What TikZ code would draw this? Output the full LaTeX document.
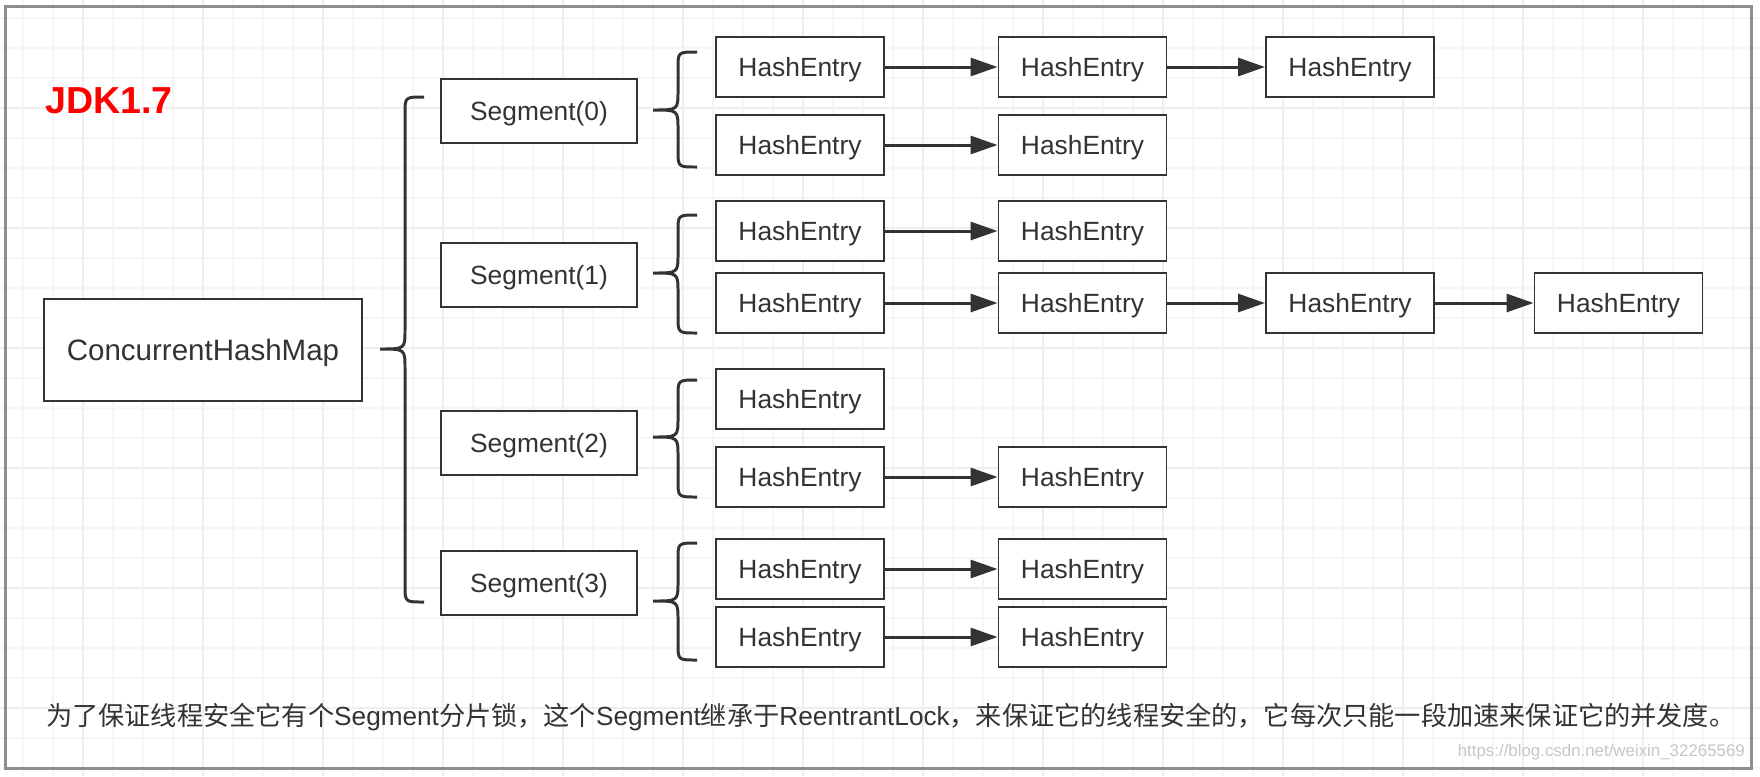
\documentclass[tikz,border=0pt]{standalone}
\usepackage{fontspec}
\setmainfont{Liberation Sans}
\newfontfamily\cjk{Noto Sans CJK SC}
\usetikzlibrary{arrows.meta}
\definecolor{ink}{HTML}{333333}
\definecolor{gridminor}{HTML}{F6F6F6}
\definecolor{gridmajor}{HTML}{EEEEEE}
\definecolor{framegray}{HTML}{8E8E8E}

% curly brace opening to the right: x of the ends, top, tip, bottom
\newcommand{\curly}[4]{%
	\draw[brace line] (#1,#2) .. controls ({#1-0.38},#2) .. ({#1-0.38},{#2-0.32}) -- ({#1-0.38},{#3+0.38}) .. controls ({#1-0.38},#3) .. ({#1-0.88},#3) .. controls ({#1-0.38},#3) .. ({#1-0.38},{#3-0.38}) -- ({#1-0.38},{#4+0.32}) .. controls ({#1-0.38},#4) .. (#1,#4);}

\begin{document}
\begin{tikzpicture}[every node/.style={font=\fontsize{15}{18}\selectfont, text=ink},
	entry/.style={draw=ink, line width=1.1pt, fill=white, minimum width=3.36cm, minimum height=1.2cm, inner sep=0pt, text depth=0pt},
	seg/.style={entry, minimum width=3.92cm, minimum height=1.28cm},
	link/.style={draw=ink, line width=1.7pt, -{Triangle[length=0.54cm, width=0.36cm]}},
	brace line/.style={draw=ink, line width=1.7pt}]
	\useasboundingbox (0,0) rectangle (35.2,-15.52);
	\fill[white] (0,0) rectangle (35.2,-15.52);
	% background grid
	\foreach \i in {0,...,58} {\draw[gridminor, line width=0.8pt] ({0.46+0.6*\i},0) -- ++(0,-15.52);}
	\foreach \j in {0,...,25} {\draw[gridminor, line width=0.8pt] (0,{-0.36-0.6*\j}) -- ++(35.2,0);}
	\foreach \i in {0,...,13} {\draw[gridmajor, line width=0.8pt] ({1.66+2.4*\i},0) -- ++(0,-15.52);}
	\foreach \j in {0,...,5} {\draw[gridmajor, line width=0.8pt] (0,{-2.16-2.4*\j}) -- ++(35.2,0);}
	\draw[framegray, line width=0.06cm] (0.1,-0.12) rectangle (35.02,-15.36);

	\node[anchor=west, text=red, font=\fontsize{21.4}{26}\selectfont\bfseries] (jdk) at (0.78,-2.02) {JDK1.7};
	\node[entry, minimum width=6.36cm, minimum height=2.04cm, font=\fontsize{16.8}{20}\selectfont] (chm) at (4.06,-7.0) {ConcurrentHashMap};

	\node[seg] (s0) at (10.78,-2.22) {Segment(0)}; \node[seg] (s1) at (10.78,-5.5) {Segment(1)};
	\node[seg] (s2) at (10.78,-8.86) {Segment(2)}; \node[seg] (s3) at (10.78,-11.66) {Segment(3)};

	\node[entry] (h11) at (16,-1.34) {HashEntry}; \node[entry] (h12) at (21.65,-1.34) {HashEntry}; \node[entry] (h13) at (27,-1.34) {HashEntry};
	\node[entry] (h21) at (16,-2.9) {HashEntry}; \node[entry] (h22) at (21.65,-2.9) {HashEntry};
	\node[entry] (h31) at (16,-4.62) {HashEntry}; \node[entry] (h32) at (21.65,-4.62) {HashEntry};
	\node[entry] (h41) at (16,-6.06) {HashEntry}; \node[entry] (h42) at (21.65,-6.06) {HashEntry}; \node[entry] (h43) at (27,-6.06) {HashEntry}; \node[entry] (h44) at (32.37,-6.06) {HashEntry};
	\node[entry] (h51) at (16,-7.98) {HashEntry};
	\node[entry] (h61) at (16,-9.54) {HashEntry}; \node[entry] (h62) at (21.65,-9.54) {HashEntry};
	\node[entry] (h71) at (16,-11.38) {HashEntry}; \node[entry] (h72) at (21.65,-11.38) {HashEntry};
	\node[entry] (h81) at (16,-12.74) {HashEntry}; \node[entry] (h82) at (21.65,-12.74) {HashEntry};

	\foreach \a/\b in {h11/h12, h12/h13, h21/h22, h31/h32, h41/h42, h42/h43, h43/h44, h61/h62, h71/h72, h81/h82} {\draw[link] (\a) -- (\b);}

	\curly{8.48}{-1.94}{-6.98}{-12.04}
	\curly{13.94}{-1.04}{-2.2}{-3.34}
	\curly{13.94}{-4.3}{-5.46}{-6.66}
	\curly{13.94}{-7.6}{-8.74}{-9.94}
	\curly{13.94}{-10.86}{-12.02}{-13.2}

	\node[anchor=west, font=\fontsize{14.9}{18}\selectfont] (note) at (0.8,-14.34) {{\cjk 为了保证线程安全它有个}Segment{\cjk 分片锁，这个}Segment{\cjk 继承于}ReentrantLock{\cjk ，来保证它的线程安全的，它每次只能一段加速来保证它的并发度。}};
	\node[anchor=east, text=black!22, font=\fontsize{9.6}{12}\selectfont] (wm) at (35.02,-15.04) {https://blog.csdn.net/weixin\_32265569};
\end{tikzpicture}
\end{document}
